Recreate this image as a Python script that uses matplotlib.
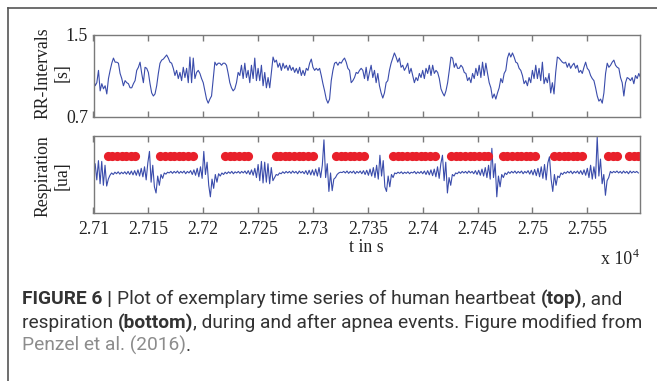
import numpy as np
import matplotlib
matplotlib.use("Agg")
import matplotlib.pyplot as plt
from matplotlib.lines import Line2D

# ---------------- data ----------------
t_start = 27100.0
t_end = 27598.0

rr_dt = 1.515
rr_values = [
    1.07, 1.00, 1.03, 1.15, 0.95, 1.02, 0.97, 1.00, 0.92, 1.07,
    1.15, 1.22, 1.27, 1.23, 1.23, 1.22, 1.12, 1.07, 1.00, 1.05,
    1.03, 1.02, 0.98, 0.98, 1.02, 1.05, 1.15, 1.18, 1.23, 1.12,
    1.03, 1.18, 1.17, 1.13, 1.02, 0.93, 0.90, 0.92, 1.00, 1.12,
    1.22, 1.25, 1.26, 1.28, 1.30, 1.27, 1.23, 1.22, 1.17, 1.10,
    1.15, 1.07, 1.13, 1.05, 1.18, 1.08, 1.17, 1.03, 1.28, 1.03,
    1.27, 1.07, 1.13, 1.15, 1.12, 1.07, 1.03, 0.95, 0.87, 0.83,
    0.87, 0.90, 1.07, 1.23, 1.20, 1.22, 1.22, 1.20, 1.22, 1.22,
    1.20, 1.12, 1.03, 0.98, 0.95, 0.97, 1.03, 1.13, 1.10, 1.20,
    1.07, 1.22, 1.08, 1.15, 1.03, 1.20, 1.07, 1.27, 1.05, 1.17,
    1.05, 1.20, 1.00, 1.13, 0.98, 1.08, 0.98, 1.13, 1.28, 1.23,
    1.25, 1.18, 1.22, 1.15, 1.22, 1.17, 1.20, 1.15, 1.20, 1.15,
    1.18, 1.13, 1.17, 1.12, 1.18, 1.10, 1.15, 1.10, 1.17, 1.15,
    1.22, 1.26, 1.18, 1.15, 1.17, 1.15, 1.17, 1.10, 1.02, 0.95,
    0.87, 0.83, 0.87, 1.05, 1.15, 1.22, 1.23, 1.20, 1.23, 1.22,
    1.25, 1.27, 1.23, 1.17, 1.15, 1.03, 1.05, 1.08, 1.13, 1.12,
    1.15, 1.17, 1.15,
    1.07, 1.18, 1.05, 1.13, 1.20, 1.08, 1.15, 1.03, 1.12, 1.00,
    0.93, 0.88, 0.93, 1.03, 1.05, 1.15, 1.22, 1.27, 1.32, 1.28,
    1.23, 1.27, 1.18, 1.20, 1.15, 1.18, 1.22, 1.12, 1.17, 1.10,
    1.03, 1.08, 1.05, 1.12, 1.08, 1.15, 1.07, 1.17, 1.12, 1.20,
    1.10, 1.20, 1.12, 1.15, 1.13, 1.07, 0.97, 0.93, 0.90, 0.95,
    1.03, 1.15, 1.28, 1.27, 1.18, 1.22, 1.17, 1.17, 1.20, 1.18,
    1.13, 1.12, 1.05, 1.08, 1.03, 1.12, 1.07, 1.17, 1.10, 1.20,
    1.08, 1.23, 1.10, 1.22, 1.12, 1.03, 0.98, 0.88, 0.92, 0.87,
    0.93, 0.98, 1.07, 1.03, 1.12, 1.15, 1.27, 1.32, 1.28, 1.32,
    1.28, 1.23, 1.22, 1.17, 1.15, 1.10, 1.02, 1.05, 1.00, 1.08,
    1.03, 1.15, 1.07, 1.20, 1.07, 1.17, 1.05, 1.23, 1.02, 1.08,
    1.03, 1.12, 0.93, 1.03, 0.92, 1.13, 1.28, 1.27, 1.25, 1.23,
    1.22, 1.23, 1.18, 1.22, 1.17, 1.20, 1.22, 1.17, 1.20, 1.13,
    1.15, 1.12, 1.18, 1.23, 1.17, 1.15, 1.10, 1.07, 1.05, 0.98,
    0.90, 0.85, 0.87, 0.83, 0.93, 1.12, 1.22, 1.18, 1.20, 1.23,
    1.25, 1.20, 1.18, 1.17, 1.08, 1.03, 0.90, 1.03, 1.08, 1.07,
    1.05, 1.08, 1.02, 1.10, 1.07, 1.12, 1.08, 1.10,
]

resp_dt = 1.5
resp_values = [
    5.0, 6.4, 4.3, 6.8, 3.8, 6.7, 3.6, 6.2, 3.5, 4.4,
    4.9, 5.2, 5.0, 5.3, 5.1, 5.35, 5.05, 5.3, 5.1, 5.35,
    5.05, 5.4, 5.0, 5.45, 4.95, 5.5, 4.9, 5.6, 4.8, 5.8,
    4.7, 6.0, 4.3, 6.5, 8.0, 4.0, 6.2, 3.4, 2.6, 4.8,
    3.6, 5.0, 4.5, 5.2, 5.05, 5.3, 5.2, 5.4, 5.15, 5.4,
    5.2, 5.45, 5.15, 5.4, 5.2, 5.45, 5.1, 5.4, 5.2, 5.5,
    5.0, 5.6, 4.9, 5.8, 4.7, 6.0, 4.5, 8.0, 5.0, 6.6,
    3.6, 2.1, 4.4, 3.2, 5.0, 4.0, 5.1, 4.8, 5.2, 5.0,
    5.3, 5.1, 5.35, 5.15, 5.4, 5.1, 5.35, 5.2, 5.4, 5.15,
    5.4, 5.2, 5.45, 5.1, 5.5, 5.0, 5.6, 4.9, 5.8, 4.6,
    6.3, 4.2, 6.7, 3.9, 6.6, 4.0, 6.4, 3.8, 5.9, 4.2,
    4.6, 5.0, 4.9, 5.2, 5.1, 5.35, 5.15, 5.4, 5.2, 5.4,
    5.15, 5.45, 5.2, 5.4, 5.1, 5.45, 5.2, 5.4, 5.1, 5.5,
    5.0, 5.55, 4.95, 5.6, 4.9, 5.7, 4.8, 5.9, 4.6, 6.2,
    9.5, 4.6, 6.4, 2.8, 5.2, 2.9, 4.4, 4.6, 5.0, 5.2,
    5.3, 5.25, 5.4, 5.2, 5.45, 5.15, 5.4, 5.2, 5.45, 5.1,
    5.4, 5.2, 5.45, 5.1, 5.5, 5.0, 5.55, 4.9, 5.7, 4.8,
    5.9, 4.6, 6.2, 4.4, 7.5, 4.8, 6.8, 3.4, 2.8, 4.8,
    3.4, 5.0, 4.6, 5.2, 5.1, 5.3, 5.15, 5.35, 5.1, 5.3,
    5.15, 5.35, 5.1, 5.3, 5.2, 5.4, 5.1, 5.35, 5.15, 5.4,
    5.1, 5.45, 5.0, 5.5, 4.95, 5.6, 4.85, 5.7, 4.7, 6.0,
    4.5, 6.4, 7.5, 4.2, 6.6, 2.6, 4.6, 3.6, 5.0, 4.8,
    5.2, 5.1, 5.35, 5.15, 5.4, 5.2, 5.4, 5.15, 5.45, 5.2,
    5.4, 5.1, 5.5, 5.0, 5.55, 4.9, 5.7, 4.8, 5.9, 4.6,
    6.2, 4.4, 8.4, 4.6, 6.4, 2.1, 4.8, 3.4, 5.0, 4.6,
    5.2, 5.0, 5.35, 5.15, 5.4, 5.2, 5.45, 5.15, 5.4, 5.2,
    5.45, 5.1, 5.4, 5.2, 5.5, 5.05, 5.55, 4.95, 5.65, 4.85,
    5.8, 4.7, 6.0, 4.5, 6.3, 4.3, 6.5, 7.3, 4.4, 2.8,
    5.0, 3.6, 4.8, 4.6, 5.2, 5.0, 5.3, 5.15, 5.4, 5.2,
    5.45, 5.1, 5.4, 5.2, 5.45, 5.1, 5.5, 5.0, 5.6, 4.9,
    5.8, 4.6, 6.2, 4.4, 6.0, 4.5, 9.9, 4.8, 7.0, 3.8,
    5.0, 2.3, 4.2, 4.6, 5.4, 5.2, 5.4, 5.25, 5.45, 5.2,
    5.4, 5.15, 5.45, 5.2, 5.4, 5.1, 5.45, 5.2, 5.4, 5.25,
    5.4, 5.2,
]

# apnea event intervals (start, end) in seconds, marked with red dots
apnea_starts = [27113, 27161, 27220, 27266, 27321, 27373, 27426, 27473, 27520, 27569, 27588]
apnea_ends   = [27142, 27193, 27245, 27302, 27349, 27413, 27462, 27505, 27549, 27579, 27597]
apnea_level = 7.45
apnea_step = 4.2

xtick_values = [27100, 27150, 27200, 27250, 27300, 27350, 27400, 27450, 27500, 27550]
xtick_labels = ["2.71", "2.715", "2.72", "2.725", "2.73", "2.735", "2.74", "2.745", "2.75", "2.755"]

# ---------------- styling ----------------
W, H = 657, 381
DPI = 100
SERIF = ["Liberation Serif", "DejaVu Serif"]
SANS = ["Roboto", "Liberation Sans", "DejaVu Sans"]
LINE_BLUE = "#3a4cab"
RED = "#e8202a"
SPINE = "#7a7a7a"
TXT = "#222222"
FS = 12.8

fig = plt.figure(figsize=(W / DPI, H / DPI), dpi=DPI)
fig.patch.set_facecolor("white")


def fbox(x0, y0, x1, y1):
    return [x0 / W, 1 - y1 / H, (x1 - x0) / W, (y1 - y0) / H]


ax1 = fig.add_axes(fbox(93.5, 34.5, 640, 116.5))
ax2 = fig.add_axes(fbox(93.5, 136, 640, 213))

rr_t = t_start + rr_dt * np.arange(len(rr_values))
resp_t = t_start + resp_dt * np.arange(len(resp_values))

ax1.plot(rr_t, rr_values, color=LINE_BLUE, lw=0.8)
ax2.plot(resp_t, resp_values, color=LINE_BLUE, lw=0.8)

for s, e in zip(apnea_starts, apnea_ends):
    xs = np.arange(s, e + 0.01, apnea_step)
    ax2.plot(xs, np.full(len(xs), apnea_level), linestyle="none", marker="o",
             markersize=6.6, markerfacecolor=RED, markeredgewidth=0, clip_on=True)

for ax in (ax1, ax2):
    ax.set_xlim(t_start, t_end)
    ax.set_xticks(xtick_values)
    for sp in ax.spines.values():
        sp.set_color(SPINE)
        sp.set_linewidth(1.0)
    ax.tick_params(axis="x", direction="in", length=4, width=1.0, color=SPINE,
                   top=True, bottom=True, labelsize=FS, labelcolor=TXT, pad=6)
    ax.tick_params(axis="y", direction="in", length=0, labelsize=FS, labelcolor=TXT, pad=4)

ax1.set_ylim(0.7, 1.5)
ax1.set_yticks([0.7, 1.5])
ax1.set_yticklabels(["0.7", "1.5"], fontfamily=SERIF)
ax1.set_xticklabels([])

ax2.set_ylim(0, 10)
ax2.set_yticks([])
ax2.set_xticklabels(xtick_labels, fontfamily=SERIF)

fig.text(43 / W, 1 - 73 / H, "RR-Intervals", rotation=90, ha="center", va="center",
         fontsize=FS, family=SERIF, color=TXT)
fig.text(62 / W, 1 - 73 / H, "[s]", rotation=90, ha="center", va="center",
         fontsize=FS, family=SERIF, color=TXT)
fig.text(43 / W, 1 - 176 / H, "Respiration", rotation=90, ha="center", va="center",
         fontsize=FS, family=SERIF, color=TXT)
fig.text(62 / W, 1 - 176 / H, "[ua]", rotation=90, ha="center", va="center",
         fontsize=FS, family=SERIF, color=TXT)

fig.text(366 / W, 1 - 248 / H, "t in s", ha="center", va="center",
         fontsize=FS, family=SERIF, color=TXT)
fig.text(632 / W, 1 - 260 / H, "x 10", ha="right", va="center",
         fontsize=FS, family=SERIF, color=TXT)
fig.text(633 / W, 1 - 254 / H, "4", ha="left", va="center",
         fontsize=8.5, family=SERIF, color=TXT)

# outer frame (left and top edges)
fig.add_artist(Line2D([7.5 / W, 7.5 / W], [0, 1 - 8 / H], transform=fig.transFigure,
                      color="#555555", lw=1.2))
fig.add_artist(Line2D([7.5 / W, 1], [1 - 8 / H, 1 - 8 / H], transform=fig.transFigure,
                      color="#555555", lw=1.2))

# caption
DARK = "#333333"
GREY = "#8c8c8c"
lines = [
    [("FIGURE 6 | ", "bold", DARK), ("Plot of exemplary time series of human heartbeat ", "normal", DARK),
     ("(top)", "bold", DARK), (", and", "normal", DARK)],
    [("respiration ", "normal", DARK), ("(bottom)", "bold", DARK),
     (", during and after apnea events. Figure modified from", "normal", DARK)],
    [("Penzel et al. (2016)", "normal", GREY), (".", "normal", DARK)],
]
baselines = [304, 328, 351]
renderer = fig.canvas.get_renderer()


def line_width(pieces, size):
    total = 0
    for s, w, c in pieces:
        t = fig.text(0, 0, s, fontsize=size, fontweight=w, family=SANS)
        total += t.get_window_extent(renderer).width
        t.remove()
    return total


cap_size = 10 * 603 / line_width(lines[0], 10)

for pieces, yb in zip(lines, baselines):
    x = 22.0
    for s, w, c in pieces:
        t = fig.text(x / W, 1 - yb / H, s, fontsize=cap_size, fontweight=w, color=c,
                     family=SANS, ha="left", va="baseline")
        x += t.get_window_extent(renderer).width

fig.savefig("out.png", dpi=DPI, facecolor="white")
